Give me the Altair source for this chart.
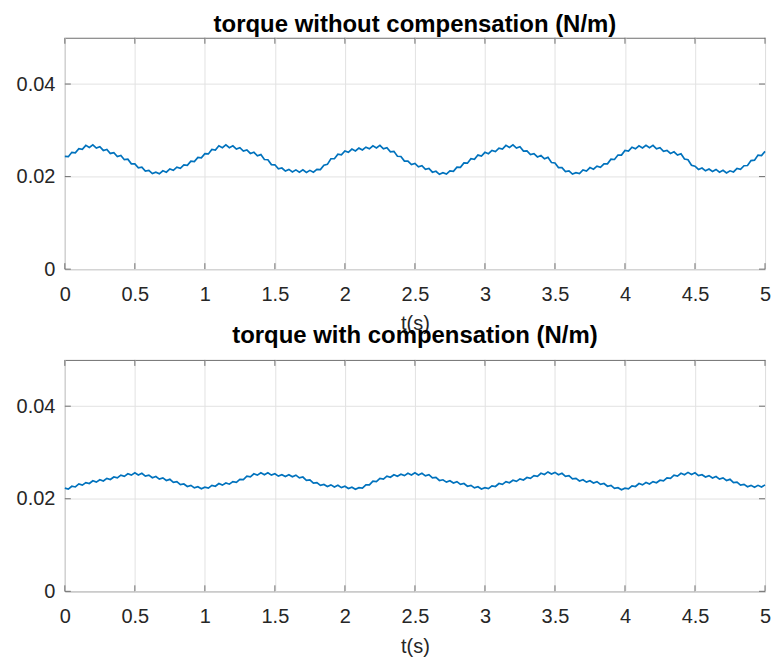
import altair as alt
import pandas as pd

torque_without = [
    0.02435, 0.02430, 0.02525, 0.02515, 0.02605, 0.02590, 0.02675, 0.02630, 0.02685, 0.02615,
    0.02645, 0.02565, 0.02585, 0.02500, 0.02515, 0.02435, 0.02455, 0.02365, 0.02375, 0.02275,
    0.02275, 0.02190, 0.02205, 0.02120, 0.02135, 0.02065, 0.02095, 0.02060, 0.02125, 0.02095,
    0.02165, 0.02135, 0.02205, 0.02180, 0.02255, 0.02245, 0.02335, 0.02325, 0.02415, 0.02405,
    0.02495, 0.02490, 0.02585, 0.02575, 0.02665, 0.02625, 0.02685, 0.02625, 0.02665, 0.02595,
    0.02625, 0.02550, 0.02575, 0.02500, 0.02525, 0.02450, 0.02475, 0.02370, 0.02365, 0.02260,
    0.02255, 0.02170, 0.02185, 0.02120, 0.02155, 0.02100, 0.02145, 0.02095, 0.02145, 0.02090,
    0.02135, 0.02095, 0.02155, 0.02150, 0.02245, 0.02265, 0.02385, 0.02385, 0.02485, 0.02470,
    0.02555, 0.02525, 0.02595, 0.02555, 0.02615, 0.02575, 0.02635, 0.02600, 0.02665, 0.02620,
    0.02675, 0.02600, 0.02625, 0.02535, 0.02545, 0.02440, 0.02435, 0.02335, 0.02335, 0.02260,
    0.02285, 0.02210, 0.02235, 0.02155, 0.02175, 0.02095, 0.02115, 0.02050, 0.02085, 0.02055,
    0.02125, 0.02115, 0.02205, 0.02200, 0.02295, 0.02290, 0.02385, 0.02375, 0.02465, 0.02445,
    0.02525, 0.02495, 0.02565, 0.02540, 0.02615, 0.02595, 0.02675, 0.02630, 0.02685, 0.02615,
    0.02645, 0.02550, 0.02555, 0.02475, 0.02495, 0.02425, 0.02455, 0.02385, 0.02415, 0.02305,
    0.02295, 0.02195, 0.02195, 0.02110, 0.02125, 0.02055, 0.02085, 0.02065, 0.02145, 0.02120,
    0.02195, 0.02160, 0.02225, 0.02200, 0.02275, 0.02275, 0.02375, 0.02370, 0.02465, 0.02465,
    0.02565, 0.02550, 0.02635, 0.02600, 0.02665, 0.02620, 0.02675, 0.02625, 0.02675, 0.02600,
    0.02625, 0.02545, 0.02565, 0.02500, 0.02535, 0.02465, 0.02495, 0.02380, 0.02365, 0.02245,
    0.02225, 0.02155, 0.02185, 0.02125, 0.02165, 0.02110, 0.02155, 0.02095, 0.02135, 0.02080,
    0.02125, 0.02100, 0.02175, 0.02155, 0.02235, 0.02240, 0.02345, 0.02355, 0.02465, 0.02455,
    0.02545,
]

torque_with = [
    0.02230, 0.02210, 0.02270, 0.02255, 0.02320, 0.02295, 0.02350, 0.02330, 0.02390, 0.02360,
    0.02410, 0.02385, 0.02440, 0.02415, 0.02470, 0.02450, 0.02510, 0.02485, 0.02540, 0.02510,
    0.02560, 0.02515, 0.02550, 0.02490, 0.02510, 0.02455, 0.02480, 0.02425, 0.02450, 0.02395,
    0.02420, 0.02355, 0.02370, 0.02305, 0.02320, 0.02265, 0.02290, 0.02235, 0.02260, 0.02215,
    0.02250, 0.02230, 0.02290, 0.02270, 0.02330, 0.02295, 0.02340, 0.02315, 0.02370, 0.02355,
    0.02420, 0.02415, 0.02490, 0.02475, 0.02540, 0.02510, 0.02560, 0.02520, 0.02560, 0.02510,
    0.02540, 0.02490, 0.02520, 0.02480, 0.02520, 0.02475, 0.02510, 0.02450, 0.02470, 0.02400,
    0.02410, 0.02340, 0.02350, 0.02290, 0.02310, 0.02265, 0.02300, 0.02255, 0.02290, 0.02240,
    0.02270, 0.02220, 0.02250, 0.02205, 0.02240, 0.02230, 0.02300, 0.02300, 0.02380, 0.02370,
    0.02440, 0.02425, 0.02490, 0.02465, 0.02520, 0.02485, 0.02530, 0.02500, 0.02550, 0.02515,
    0.02560, 0.02515, 0.02550, 0.02495, 0.02520, 0.02450, 0.02460, 0.02395, 0.02410, 0.02360,
    0.02390, 0.02340, 0.02370, 0.02310, 0.02330, 0.02270, 0.02290, 0.02235, 0.02260, 0.02210,
    0.02240, 0.02220, 0.02280, 0.02265, 0.02330, 0.02310, 0.02370, 0.02345, 0.02400, 0.02375,
    0.02430, 0.02405, 0.02460, 0.02440, 0.02500, 0.02485, 0.02550, 0.02525, 0.02580, 0.02535,
    0.02570, 0.02520, 0.02550, 0.02485, 0.02500, 0.02430, 0.02440, 0.02385, 0.02410, 0.02360,
    0.02390, 0.02340, 0.02370, 0.02310, 0.02330, 0.02270, 0.02290, 0.02225, 0.02240, 0.02195,
    0.02230, 0.02215, 0.02280, 0.02265, 0.02330, 0.02300, 0.02350, 0.02320, 0.02370, 0.02345,
    0.02400, 0.02385, 0.02450, 0.02440, 0.02510, 0.02490, 0.02550, 0.02520, 0.02570, 0.02525,
    0.02560, 0.02500, 0.02520, 0.02470, 0.02500, 0.02450, 0.02480, 0.02425, 0.02450, 0.02395,
    0.02420, 0.02350, 0.02360, 0.02295, 0.02310, 0.02260, 0.02290, 0.02250, 0.02290, 0.02255,
    0.02300,
]

time_s = [round(i * 0.025, 3) for i in range(len(torque_without))]

x_tick_values = [0, 0.5, 1, 1.5, 2, 2.5, 3, 3.5, 4, 4.5, 5]
y_tick_values = [0, 0.02, 0.04]
titles = ["torque without compensation (N/m)", "torque with compensation (N/m)"]
x_label = "t(s)"

W, H = 702, 232
FONT = "Liberation Sans"
AXIS_GRAY = "#6e6e6e"
TEXT = "#262626"
LINE_BLUE = "#0072BD"

x_scale = alt.Scale(domain=[0, 5], nice=False, zero=False)
y_scale = alt.Scale(domain=[0, 0.05], nice=False)

x_axis = alt.Axis(
    values=x_tick_values, format="~g", grid=True, gridColor="#e2e2e2",
    ticks=False, domain=False, labelFontSize=20, labelColor=TEXT, labelFont=FONT,
    labelPadding=15, labelFlush=False, labelOverlap=False,
    title=x_label, titleFontSize=20, titleFontWeight="normal", titleColor=TEXT,
    titleFont=FONT, titlePadding=10,
)
y_axis = alt.Axis(
    values=y_tick_values, format="~g", grid=True, gridColor="#e2e2e2",
    ticks=False, domain=False, labelFontSize=20, labelColor=TEXT, labelFont=FONT,
    labelPadding=10, labelFlush=False, labelOverlap=False, title=None,
)


def panel(values, title, title_offset):
    df = pd.DataFrame({"t": time_s, "torque": values})
    xt = pd.DataFrame({"t": x_tick_values})
    yt = pd.DataFrame({"torque": y_tick_values})
    X = alt.X("t:Q", scale=x_scale, axis=x_axis)
    Y = alt.Y("torque:Q", scale=y_scale, axis=y_axis)

    line = alt.Chart(df).mark_line(color=LINE_BLUE, strokeWidth=1.7).encode(x=X, y=Y)
    bottom_ticks = alt.Chart(xt).mark_rule(color=AXIS_GRAY).encode(
        x=X, y=alt.value(H), y2=alt.value(H - 6))
    top_ticks = alt.Chart(xt).mark_rule(color=AXIS_GRAY).encode(
        x=X, y=alt.value(0), y2=alt.value(6))
    left_ticks = alt.Chart(yt).mark_rule(color=AXIS_GRAY).encode(
        y=Y, x=alt.value(0), x2=alt.value(6))
    right_ticks = alt.Chart(yt).mark_rule(color=AXIS_GRAY).encode(
        y=Y, x=alt.value(W - 6), x2=alt.value(W))

    return alt.layer(line, bottom_ticks, top_ticks, left_ticks, right_ticks).properties(
        width=W, height=H,
        title=alt.TitleParams(
            title, fontSize=24, fontWeight="bold", color="black", font=FONT,
            anchor="middle", offset=title_offset,
        ),
    )


top = panel(torque_without, titles[0], 0)
bottom = panel(torque_with, titles[1], 11)

chart = alt.vconcat(top, bottom, spacing=91, bounds="flush").properties(
    padding={"left": 15, "top": 12, "right": 0, "bottom": 0},
    background="white",
).configure_view(stroke=AXIS_GRAY, strokeWidth=1)

chart.save("out.html", embed_options={"renderer": "svg", "actions": False})
